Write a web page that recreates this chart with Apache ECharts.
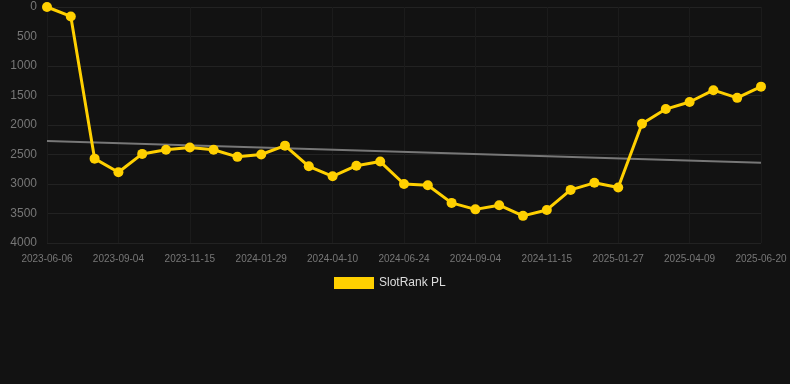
<!DOCTYPE html>
<html>
<head>
<meta charset="utf-8">
<script src="https://cdn.jsdelivr.net/npm/echarts@6/dist/echarts.min.js"></script>
<style>
  html, body { margin: 0; padding: 0; background: #121212; }
  #chart { width: 790px; height: 384px; }
</style>
</head>
<body>
<div id="chart"></div>
<script>
var dates = ['2023-06-06', '2023-07-06', '2023-08-05', '2023-09-04', '2023-09-28', '2023-10-22',
  '2023-11-15', '2023-12-10', '2024-01-04', '2024-01-29', '2024-02-22', '2024-03-17',
  '2024-04-10', '2024-05-05', '2024-05-30', '2024-06-24', '2024-07-15', '2024-08-05',
  '2024-09-04', '2024-09-28', '2024-10-22', '2024-11-15', '2024-12-10', '2025-01-03',
  '2025-01-27', '2025-02-20', '2025-03-16', '2025-04-09', '2025-05-03', '2025-05-27', '2025-06-20'];
var rankValues = [0, 160, 2570, 2800, 2490, 2420, 2380, 2420, 2540, 2500, 2350, 2700,
  2870, 2690, 2620, 3000, 3020, 3320, 3430, 3360, 3540, 3440, 3100, 2980,
  3060, 1980, 1730, 1610, 1410, 1540, 1350];
var trendStart = 2270;
var trendEnd = 2640;
var yTicks = [0, 500, 1000, 1500, 2000, 2500, 3000, 3500, 4000];

var trendValues = dates.map(function (d, i) {
  if (i === 0) return trendStart;
  if (i === dates.length - 1) return trendEnd;
  return null;
});

var chart = echarts.init(document.getElementById('chart'));
chart.setOption({
  backgroundColor: '#121212',
  animation: false,
  grid: { left: 47, right: 29, top: 7, bottom: 141 },
  legend: {
    data: ['SlotRank PL'],
    top: 277,
    left: 334,
    padding: 0,
    icon: 'rect',
    itemWidth: 40,
    itemHeight: 12,
    itemGap: 10,
    textStyle: { color: '#dddddd', fontSize: 12 }
  },
  xAxis: {
    type: 'category',
    data: dates,
    boundaryGap: false,
    axisLine: { show: false },
    axisTick: { show: false },
    axisLabel: { interval: 2, color: '#777777', fontSize: 10, margin: 11 },
    splitLine: { show: true, interval: 2, lineStyle: { color: '#1b1b1b' } }
  },
  yAxis: {
    type: 'value',
    inverse: true,
    min: yTicks[0],
    max: yTicks[yTicks.length - 1],
    interval: 500,
    axisLine: { show: false },
    axisTick: { show: false },
    axisLabel: {
      color: '#777777', fontSize: 12, margin: 10,
      formatter: function (v) { return String(v); }
    },
    splitLine: { lineStyle: { color: '#222222' } }
  },
  series: [{
    name: 'SlotRank PL',
    type: 'line',
    data: rankValues,
    color: '#ffd000',
    symbol: 'circle',
    symbolSize: 10,
    lineStyle: { width: 3, color: '#ffd000' },
    itemStyle: { color: '#ffd000' },
    z: 3
  }, {
    name: 'trend',
    type: 'line',
    data: trendValues,
    connectNulls: true,
    symbol: 'none',
    lineStyle: { width: 2, color: '#777777' },
    z: 2
  }]
});
</script>
</body>
</html>
